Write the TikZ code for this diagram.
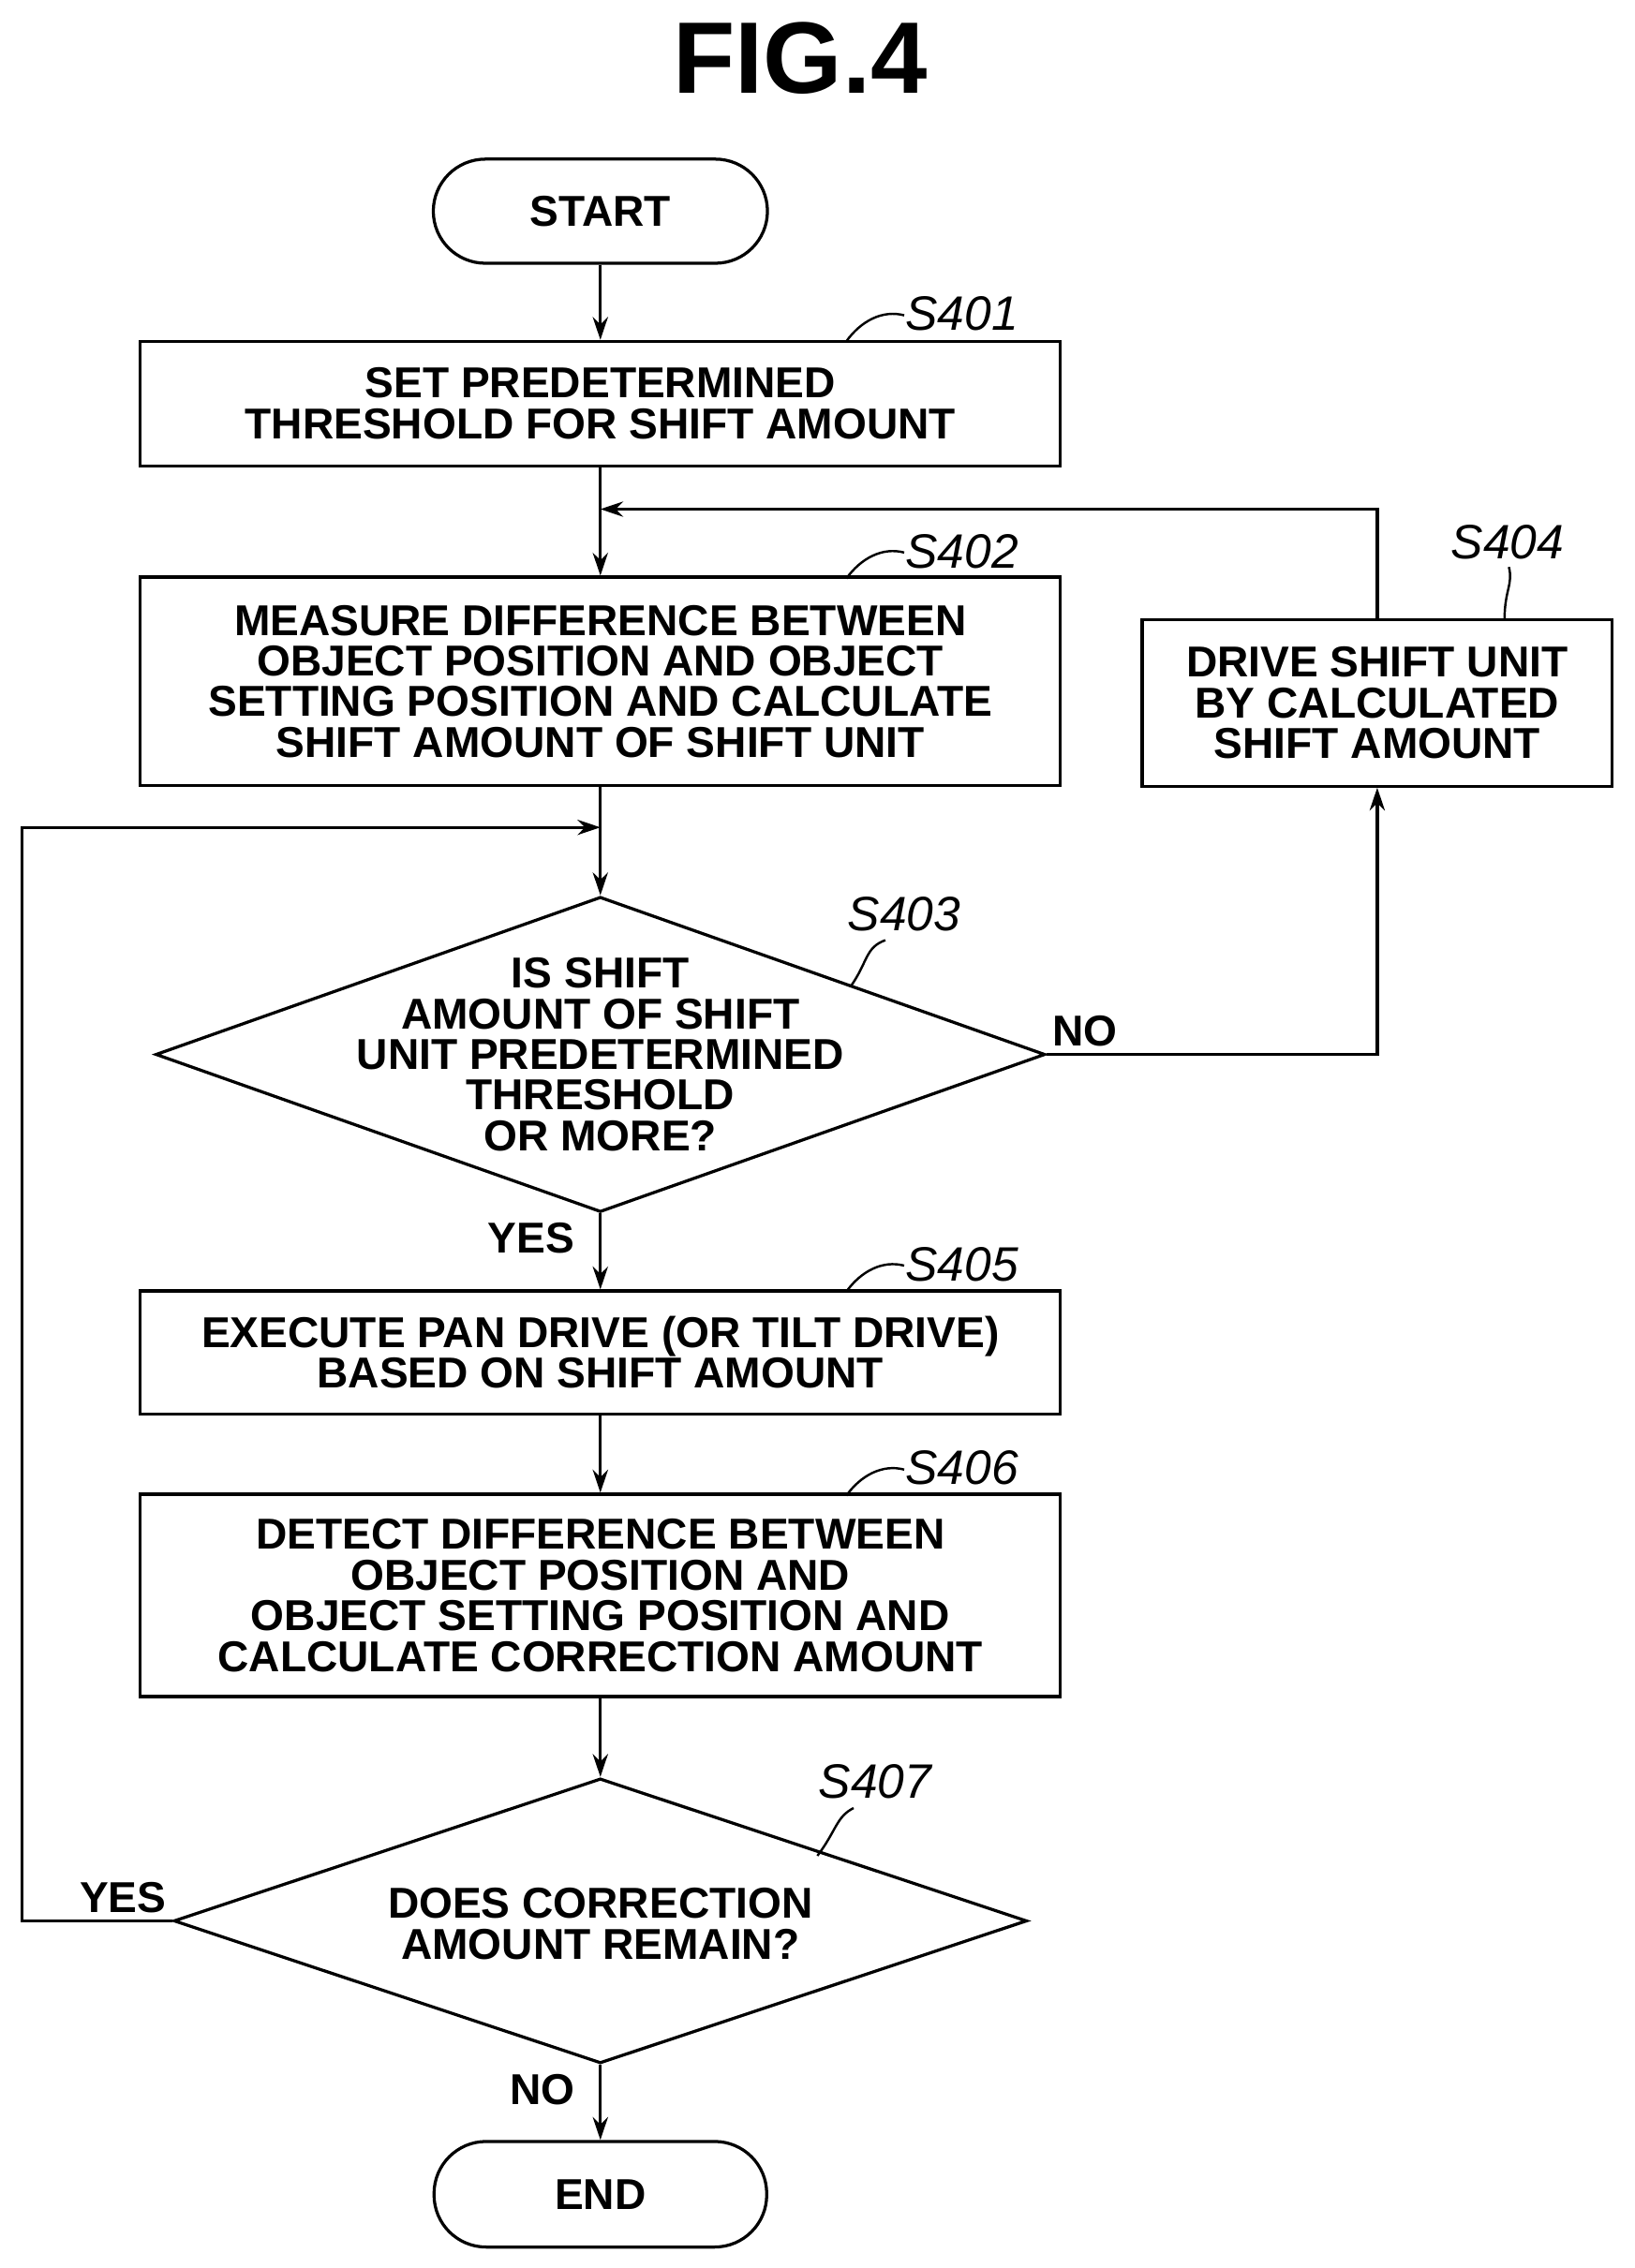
\documentclass[tikz,border=0pt]{standalone}
\usepackage{fontspec}
\setmainfont{Liberation Sans}
\usetikzlibrary{shapes.geometric,arrows.meta}
\begin{document}
\begin{tikzpicture}[x=0.02cm,y=-0.02cm,
  every node/.style={font=\fontsize{17}{16}\selectfont\bfseries},
  box/.style={draw,line width=1.2pt,inner sep=0,align=center},
  term/.style={draw,line width=1.2pt,rounded corners=0.72cm,inner sep=0},
  dia/.style={draw,line width=1.2pt,diamond,inner sep=0},
  ln/.style={line width=1.2pt},
  arr/.style={line width=1.2pt,-{Stealth[length=9pt,width=6pt]}},
  lab/.style={font=\fontsize{19}{19}\selectfont\itshape},
  lead/.style={line width=0.9pt}]
\path[use as bounding box] (0,0) rectangle (1130,1568);
\node[font=\fontsize{40}{40}\selectfont\bfseries] (title) at (553,40) {FIG.4};
\node[term,minimum width=4.62cm,minimum height=1.44cm] (start) at (415,146) {START};
\node[box,minimum width=12.72cm,minimum height=1.72cm] (s401) at (415,279) {SET PREDETERMINED\\THRESHOLD FOR SHIFT AMOUNT};
\node[box,minimum width=12.72cm,minimum height=2.88cm] (s402) at (415,471) {MEASURE DIFFERENCE BETWEEN\\OBJECT POSITION AND OBJECT\\SETTING POSITION AND CALCULATE\\SHIFT AMOUNT OF SHIFT UNIT};
\node[box,minimum width=6.5cm,minimum height=2.3cm] (s404) at (952,486) {DRIVE SHIFT UNIT\\BY CALCULATED\\SHIFT AMOUNT};
\node[dia,minimum width=12.3cm,minimum height=4.36cm] (s403) at (415,729) {};
\node[align=center] (t403) at (415,729) {IS SHIFT\\AMOUNT OF SHIFT\\UNIT PREDETERMINED\\THRESHOLD\\OR MORE?};
\node[box,minimum width=12.72cm,minimum height=1.7cm] (s405) at (415,935) {EXECUTE PAN DRIVE (OR TILT DRIVE)\\BASED ON SHIFT AMOUNT};
\node[box,minimum width=12.72cm,minimum height=2.8cm] (s406) at (415,1103) {DETECT DIFFERENCE BETWEEN\\OBJECT POSITION AND\\OBJECT SETTING POSITION AND\\CALCULATE CORRECTION AMOUNT};
\node[dia,minimum width=11.8cm,minimum height=3.94cm] (s407) at (415,1328) {};
\node[align=center] (t407) at (415,1330) {DOES CORRECTION\\AMOUNT REMAIN?};
\node[term,minimum width=4.6cm,minimum height=1.46cm] (end) at (415,1517) {END};
% labels
\node[lab] (l401) at (665,217) {S401};
\node[lab] (l402) at (665,381) {S402};
\node[lab] (l404) at (1042,375) {S404};
\node[lab] (l403) at (625,632) {S403};
\node[lab] (l405) at (665,874) {S405};
\node[lab] (l406) at (665,1015) {S406};
\node[lab] (l407) at (605,1232) {S407};
\node (no1) at (750,713) {NO};
\node (yes1) at (367,856) {YES};
\node (yes2) at (85,1312) {YES};
\node (no2) at (375,1445) {NO};
% leaders
\draw[lead] (585,236) .. controls (595,222) and (610,214) .. (625,218);
\draw[lead] (585,400) .. controls (595,386) and (610,378) .. (625,382);
\draw[lead] (585,893) .. controls (595,879) and (610,871) .. (625,875);
\draw[lead] (585,1034) .. controls (595,1020) and (610,1012) .. (625,1016);
\draw[lead] (1040,428) .. controls (1040,408) and (1046,404) .. (1043,392);
\draw[lead] (588,682) .. controls (600,665) and (598,655) .. (612,650);
\draw[lead] (565,1283) .. controls (578,1266) and (578,1256) .. (590,1250);
% connectors
\coordinate (j1) at (415,352);
\coordinate (j2) at (415,572);
\draw[arr] (start) -- (s401);
\draw[arr] (s401) -- (s402);
\draw[arr] (s402) -- (s403);
\draw[arr] (s403.east) -- (952,729) -- (s404.south);
\draw[arr] (s404.north) -- (952,352) -- (j1);
\draw[arr] (s403) -- (s405);
\draw[arr] (s405) -- (s406);
\draw[arr] (s406) -- (s407);
\draw[arr] (s407.west) -- (15,1328) -- (15,572) -- (j2);
\draw[arr] (s407) -- (end);
\end{tikzpicture}
\end{document}
